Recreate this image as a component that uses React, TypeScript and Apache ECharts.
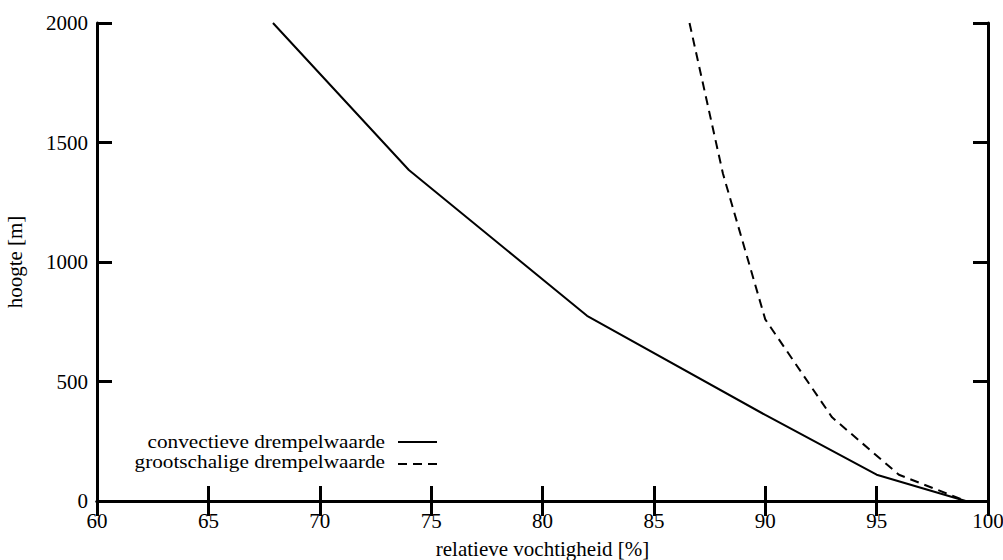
import React, { useEffect, useRef } from "react";
import * as echarts from "echarts";

const xTicks = [60, 65, 70, 75, 80, 85, 90, 95, 100];
const yTicks = [0, 500, 1000, 1500, 2000];

const convectiveRH = [67.9, 74.0, 82.0, 90.0, 95.0, 99.0];
const convectiveHeight = [2000, 1385, 775, 360, 110, 0];

const largeScaleRH = [86.6, 88.1, 90.0, 93.0, 96.0, 99.0];
const largeScaleHeight = [2000, 1370, 760, 350, 110, 0];

const xName = "relatieve vochtigheid [%]";
const yName = "hoogte [m]";
const legendNames = ["convectieve drempelwaarde", "grootschalige drempelwaarde"];

const FONT = "Liberation Serif";

export default function App() {
  const ref = useRef<HTMLDivElement>(null);
  useEffect(() => {
    if (!ref.current) return;
    const chart = echarts.init(ref.current, null, { renderer: "svg" });
    const frameLine = { show: true, lineStyle: { color: "#000", width: 3 } };
    const innerTick = { show: true, inside: true, length: 15, lineStyle: { color: "#000", width: 3 } };
    const xMin = xTicks[0];
    const xMax = xTicks[xTicks.length - 1];
    const yMin = yTicks[0];
    const yMax = yTicks[yTicks.length - 1];
    chart.setOption({
      animation: false,
      backgroundColor: "#fff",
      grid: { left: 97, right: 15, top: 23, bottom: 59, containLabel: false, outerBoundsMode: "none" },
      xAxis: [
        {
          type: "value",
          min: xMin,
          max: xMax,
          interval: 5,
          position: "bottom",
          axisLine: frameLine,
          axisTick: innerTick,
          splitLine: { show: false },
          axisLabel: {
            show: true,
            color: "#000",
            fontFamily: FONT,
            fontSize: 21,
            margin: 9,
            formatter: (v: number) => (xTicks.includes(v) ? String(v) : ""),
          },
          name: xName,
          nameLocation: "middle",
          nameGap: 37,
          nameTextStyle: { color: "#000", fontFamily: FONT, fontSize: 21 },
        },
        {
          type: "value",
          min: xMin,
          max: xMax,
          interval: 5,
          position: "top",
          axisLine: frameLine,
          axisTick: innerTick,
          axisLabel: { show: false },
          splitLine: { show: false },
        },
      ],
      yAxis: [
        {
          type: "value",
          min: yMin,
          max: yMax,
          interval: 500,
          position: "left",
          axisLine: frameLine,
          axisTick: innerTick,
          splitLine: { show: false },
          axisLabel: {
            show: true,
            color: "#000",
            fontFamily: FONT,
            fontSize: 21,
            margin: 9,
            formatter: (v: number) => String(v),
          },
          name: yName,
          nameLocation: "middle",
          nameGap: 72,
          nameRotate: 90,
          nameTextStyle: { color: "#000", fontFamily: FONT, fontSize: 21 },
        },
        {
          type: "value",
          min: yMin,
          max: yMax,
          interval: 500,
          position: "right",
          axisLine: frameLine,
          axisTick: innerTick,
          axisLabel: { show: false },
          splitLine: { show: false },
        },
      ],
      series: [
        {
          name: legendNames[0],
          type: "line",
          data: convectiveRH.map((x, i) => [x, convectiveHeight[i]]),
          showSymbol: false,
          lineStyle: { color: "#000", width: 2 },
        },
        {
          name: legendNames[1],
          type: "line",
          data: largeScaleRH.map((x, i) => [x, largeScaleHeight[i]]),
          showSymbol: false,
          lineStyle: { color: "#000", width: 2, type: [9, 6] },
        },
      ],
      graphic: [
        {
          type: "text",
          x: 385,
          y: 442,
          scaleX: 1.18,
          style: {
            text: legendNames[0],
            fill: "#000",
            fontFamily: FONT,
            fontSize: 18,
            align: "right",
            verticalAlign: "middle",
          },
        },
        {
          type: "text",
          x: 385,
          y: 462,
          scaleX: 1.18,
          style: {
            text: legendNames[1],
            fill: "#000",
            fontFamily: FONT,
            fontSize: 18,
            align: "right",
            verticalAlign: "middle",
          },
        },
        {
          type: "line",
          shape: { x1: 398, y1: 442, x2: 437, y2: 442 },
          style: { stroke: "#000", lineWidth: 2 },
        },
        {
          type: "line",
          shape: { x1: 398, y1: 464, x2: 437, y2: 464 },
          style: { stroke: "#000", lineWidth: 2, lineDash: [9, 6] },
        },
      ],
    });
    return () => chart.dispose();
  }, []);
  return <div ref={ref} style={{ width: 1003, height: 560, position: "absolute", left: 0, top: 0 }} />;
}
